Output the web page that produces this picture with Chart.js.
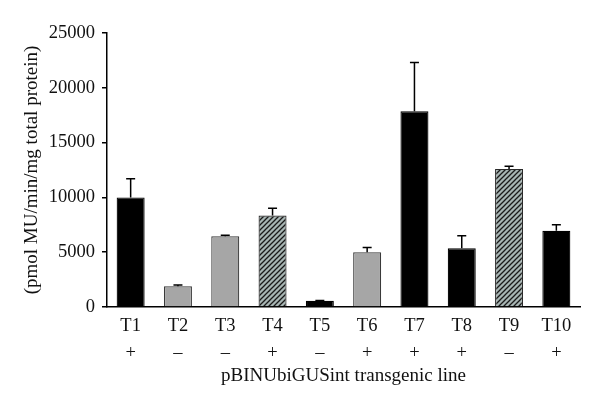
<!DOCTYPE html>
<html>
<head>
<meta charset="utf-8">
<script src="https://cdn.jsdelivr.net/npm/chart.js@4"></script>
<style>
  html, body { margin: 0; padding: 0; background: #fff; }
  #wrap { width: 600px; height: 407px; }
</style>
</head>
<body>
<div id="wrap"><canvas id="chart" width="600" height="407"></canvas></div>
<script>
const lines = ["T1", "T2", "T3", "T4", "T5", "T6", "T7", "T8", "T9", "T10"];
const markers = ["+", "–", "–", "+", "–", "+", "+", "+", "–", "+"];
const activity = [10000, 1900, 6450, 8350, 560, 5000, 17850, 5350, 12600, 6950];
const errUp = [1700, 100, 100, 650, 30, 420, 4450, 1150, 250, 550];
const fillKind = ["black", "gray", "gray", "hatch", "black", "gray", "black", "black", "hatch", "black"];
const yTicks = [0, 5000, 10000, 15000, 20000, 25000];

const FONT = "'Liberation Serif', 'DejaVu Serif', serif";

function hatchPattern() {
  const c = document.createElement("canvas");
  c.width = 5; c.height = 5;
  const g = c.getContext("2d");
  g.fillStyle = "#a7b5b3";
  g.fillRect(0, 0, 5, 5);
  g.strokeStyle = "#1a1a1a";
  g.lineWidth = 1.3;
  g.beginPath();
  g.moveTo(-1, 6); g.lineTo(6, -1);
  g.moveTo(-1, 1); g.lineTo(1, -1);
  g.moveTo(4, 6); g.lineTo(6, 4);
  g.stroke();
  return document.getElementById("chart").getContext("2d").createPattern(c, "repeat");
}
const hatch = hatchPattern();
const fills = { black: "#000000", gray: "#a6a6a6", hatch };
const borders = { black: "#000000", gray: "#3a3a3a", hatch: "#2a2a2a" };

const errorBars = {
  id: "errorBars",
  afterDatasetsDraw(chart) {
    const ctx = chart.ctx, y = chart.scales.y;
    const meta = chart.getDatasetMeta(0);
    ctx.save();
    ctx.strokeStyle = "#000";
    ctx.lineWidth = 1.5;
    meta.data.forEach((bar, i) => {
      const top = y.getPixelForValue(activity[i] + errUp[i]);
      ctx.beginPath();
      ctx.moveTo(bar.x, bar.y);
      ctx.lineTo(bar.x, top);
      ctx.moveTo(bar.x - 4.5, top);
      ctx.lineTo(bar.x + 4.5, top);
      ctx.stroke();
    });
    ctx.restore();
  }
};

new Chart(document.getElementById("chart").getContext("2d"), {
  type: "bar",
  data: {
    labels: lines.map((l, i) => [l, markers[i]]),
    datasets: [{
      data: activity,
      backgroundColor: fillKind.map(k => fills[k]),
      borderColor: fillKind.map(k => borders[k]),
      borderWidth: 1.2,
      barPercentage: 0.74,
      categoryPercentage: 0.8
    }]
  },
  options: {
    responsive: false,
    animation: false,
    layout: { padding: { top: 33, right: 20, left: 0, bottom: 16 } },
    plugins: { legend: { display: false }, tooltip: { enabled: false } },
    scales: {
      x: {
        grid: { display: false },
        border: { display: true, color: "#000", width: 1.5 },
        ticks: { color: "#111", font: { family: FONT, size: 18.5, lineHeight: 1.48 }, padding: -3, maxRotation: 0 },
        title: { display: true, text: "pBINUbiGUSint transgenic line", color: "#111", font: { family: FONT, size: 19 }, padding: { top: 2, bottom: 4 } },
        afterFit: s => { s.height = 84; }
      },
      y: {
        min: 0, max: 25000,
        afterBuildTicks: s => { s.ticks = yTicks.map(v => ({ value: v })); },
        grid: { drawOnChartArea: false, drawTicks: true, tickLength: 5, color: "#000", lineWidth: 1.5 },
        border: { display: true, color: "#000", width: 1.5 },
        ticks: { color: "#111", font: { family: FONT, size: 18.5 }, padding: 7, callback: v => String(v) },
        title: { display: true, text: "(pmol MU/min/mg total protein)", color: "#111", font: { family: FONT, size: 19 }, padding: { top: 21, bottom: 0 } },
        afterFit: s => { s.width = 107; }
      }
    }
  },
  plugins: [errorBars]
});
</script>
</body>
</html>
